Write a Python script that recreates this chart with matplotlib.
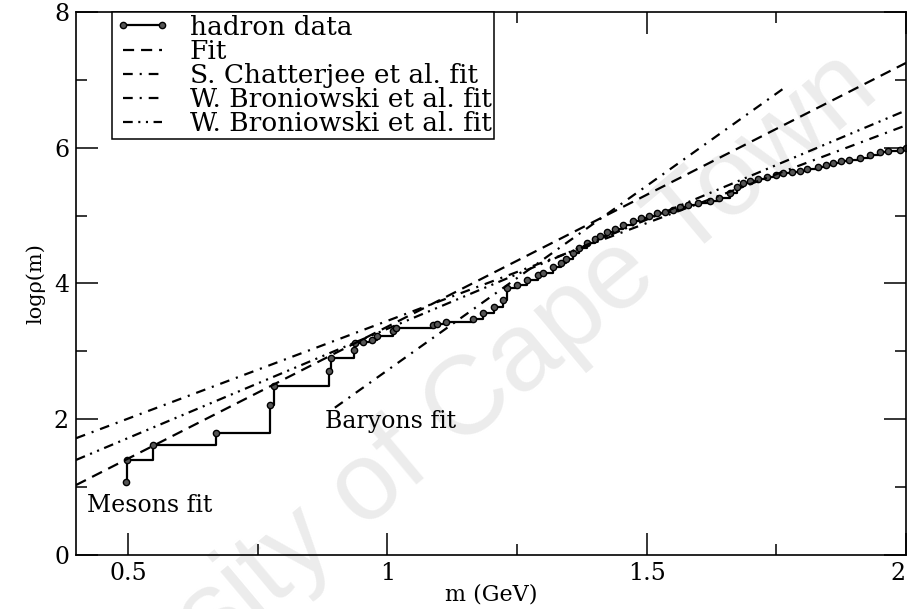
import matplotlib
matplotlib.use("Agg")
import matplotlib.pyplot as plt
from matplotlib.ticker import MultipleLocator

plt.rcParams["font.family"] = ["DejaVu Serif"]
plt.rcParams["lines.scale_dashes"] = False

# hadron data: cumulative log density
hadron_m = [0.496, 0.499, 0.549, 0.669, 0.774, 0.782, 0.888, 0.891, 0.935, 0.937,
            0.954, 0.971, 0.981, 1.012, 1.017, 1.089, 1.095, 1.114, 1.166, 1.185,
            1.205, 1.223, 1.231, 1.250, 1.269, 1.290, 1.300, 1.320, 1.335, 1.345,
            1.358, 1.370, 1.385, 1.400, 1.410, 1.424, 1.440, 1.455, 1.474, 1.490,
            1.505, 1.520, 1.535, 1.550, 1.565, 1.580, 1.600, 1.622, 1.640, 1.661,
            1.675, 1.686, 1.700, 1.715, 1.732, 1.750, 1.763, 1.780, 1.796, 1.810,
            1.830, 1.845, 1.859, 1.875, 1.890, 1.911, 1.930, 1.950, 1.965, 1.988,
            2.000]
hadron_logrho = [1.08, 1.40, 1.62, 1.80, 2.21, 2.49, 2.71, 2.90, 3.02, 3.13,
                 3.14, 3.17, 3.23, 3.30, 3.35, 3.39, 3.41, 3.43, 3.47, 3.56,
                 3.65, 3.76, 3.93, 3.98, 4.05, 4.12, 4.16, 4.24, 4.30, 4.36,
                 4.45, 4.52, 4.59, 4.65, 4.70, 4.76, 4.81, 4.86, 4.92, 4.96,
                 5.00, 5.04, 5.06, 5.09, 5.12, 5.15, 5.18, 5.22, 5.26, 5.34,
                 5.42, 5.48, 5.51, 5.54, 5.57, 5.60, 5.63, 5.64, 5.65, 5.68,
                 5.71, 5.74, 5.77, 5.80, 5.82, 5.85, 5.90, 5.93, 5.95, 5.97,
                 5.99]

# fitted lines (end points)
fit_m = [0.40, 2.00]
fit_y = [1.03, 7.25]
chatterjee_m = [0.899, 1.767]
chatterjee_y = [2.17, 6.89]
bron1_m = [0.40, 2.00]
bron1_y = [1.72, 6.33]
bron2_m = [0.40, 2.00]
bron2_y = [1.40, 6.55]

fig = plt.figure(figsize=(9.09, 6.09), dpi=100)
ax = fig.add_axes([0.0836, 0.0887, 0.9131, 0.8916])
ax.patch.set_visible(False)

# watermark behind everything
fig.text(0.4455, 0.248, "University of Cape Town", family="Liberation Sans",
         fontsize=80, color="#ececec", rotation=40, rotation_mode="anchor",
         ha="center", va="center", zorder=-1)

ax.plot(hadron_m, hadron_logrho, drawstyle="steps-post", color="black", lw=1.6,
        marker="o", ms=4.5, mfc="#555555", mec="black", mew=1.0, label="hadron data")
ax.plot(fit_m, fit_y, color="black", lw=1.6, dashes=(8, 5), label="Fit")
ax.plot(chatterjee_m, chatterjee_y, color="black", lw=1.6, dashes=(7, 5, 1.5, 5),
        label="S. Chatterjee et al. fit")
ax.plot(bron1_m, bron1_y, color="black", lw=1.6, dashes=(7, 5, 1.5, 5),
        label="W. Broniowski et al. fit")
ax.plot(bron2_m, bron2_y, color="black", lw=1.6, dashes=(7, 4, 1.5, 4, 1.5, 4),
        label="W. Broniowski et al. fit")

ax.text(0.421, 0.63, "Mesons fit", fontsize=17, va="baseline")
ax.text(0.880, 1.87, "Baryons fit", fontsize=17, va="baseline")

ax.set_xlim(0.4, 2.0)
ax.set_ylim(0, 8)
ax.yaxis.set_major_locator(MultipleLocator(2))
ax.yaxis.set_minor_locator(MultipleLocator(1))
ax.xaxis.set_minor_locator(MultipleLocator(0.25))
ax.set_xticks([0.5, 1, 1.5, 2])
ax.set_xticklabels(["0.5", "1", "1.5", "2"])
ax.get_xticklabels()[-1].set_horizontalalignment("right")
ax.tick_params(which="both", direction="in", top=True, right=True, width=1.1,
               labelsize=17)
ax.tick_params(which="major", length=16, pad=5)
ax.tick_params(which="minor", length=8)
for s in ax.spines.values():
    s.set_linewidth(1.2)

ax.set_xlabel("m (GeV)", fontsize=16, labelpad=-1)
ax.set_ylabel("logρ(m)", fontsize=15, labelpad=6)

leg = ax.legend(loc="upper left", bbox_to_anchor=(0.0434, 1.0), borderaxespad=0,
                fontsize=19, numpoints=2, handlelength=2.1, handletextpad=0.75,
                labelspacing=-0.03, borderpad=0.1, fancybox=False,
                edgecolor="black", framealpha=1)
leg.get_frame().set_linewidth(1.1)

fig.savefig("out.png", dpi=100)
